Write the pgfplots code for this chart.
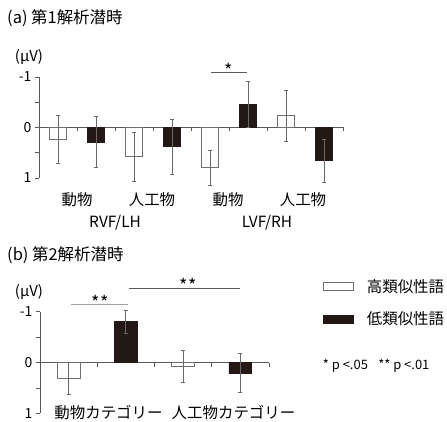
\documentclass[border=0pt]{standalone}
\usepackage{fontspec}
\setmainfont{Noto Sans CJK JP}
\usepackage{pgfplots}
\usepackage{pgfplotstable}
\pgfplotsset{compat=1.18}

\definecolor{barblack}{HTML}{231815}
\definecolor{edgegray}{HTML}{717071}
\definecolor{errgray}{HTML}{6A6868}
\definecolor{axisgray}{HTML}{595757}
\definecolor{siggray}{HTML}{9FA0A0}

% (a) first latency: x = slot centre, y = amplitude (uV), e = error
\pgfplotstableread{
x y e
0.5 0.24 0.47
2.5 0.58 0.49
4.5 0.80 0.34
6.5 -0.23 0.50
}\topwhite
\pgfplotstableread{
x y e
1.5 0.29 0.50
3.5 0.38 0.54
5.5 -0.46 0.46
7.5 0.66 0.42
}\topblack
% (b) second latency
\pgfplotstableread{
x y e
0.5 0.31 0.32
2.5 0.08 0.32
}\botwhite
\pgfplotstableread{
x y e
1.5 -0.80 0.23
3.5 0.21 0.38
}\botblack

\pgfplotsset{
  erpbars/.style={
    scale only axis, clip=false, ybar,
    y dir=reverse, ymin=-1, ymax=1,
    axis x line=middle, axis y line=left,
    axis line style={-, draw=axisgray, line width=0.8bp},
    ytick={-1,-0.5,0,0.5,1}, yticklabels={-1,,0,,1},
    xticklabels={},
    tick style={draw=axisgray, line width=0.8bp},
    major tick length=4bp,
    ytick align=outside, xtick align=inside,
    yticklabel style={font=\fontsize{14}{14}\selectfont, text=black},
  },
  whitebar/.style={fill=white, draw=edgegray, line width=0.8bp, bar shift=0pt,
    error bars/.cd, y dir=both, y explicit,
    error bar style={draw=errgray, line width=0.8bp},
    error mark options={rotate=90, draw=errgray, mark size=2bp, line width=0.8bp}},
  blackbar/.style={fill=barblack, draw=barblack, line width=0.8bp, bar shift=0pt,
    error bars/.cd, y dir=both, y explicit,
    error bar style={draw=errgray, line width=0.8bp},
    error mark options={rotate=90, draw=errgray, mark size=2bp, line width=0.8bp}},
}
\tikzset{sigstar/.style={anchor=base, inner sep=0pt, font=\fontsize{18}{18}\selectfont}}

\begin{document}
\begin{tikzpicture}
\useasboundingbox (0,0) rectangle (447bp,422bp);

% ---- (a) ----
\begin{axis}[erpbars, at={(39bp,244bp)}, anchor=south west,
  width=304bp, height=101bp, xmin=0, xmax=8, xtick={1,...,8}, bar width=0.43]
\addplot[whitebar] table[x=x, y=y, y error=e] {\topwhite};
\addplot[blackbar] table[x=x, y=y, y error=e] {\topblack};
\draw[axisgray, line width=0.8bp] (axis cs:4.53,-1.09) -- (axis cs:5.47,-1.09);
\node[sigstar] at (axis cs:5,-0.99) {*};
\end{axis}

% ---- (b) ----
\begin{axis}[erpbars, at={(40bp,8.7bp)}, anchor=south west,
  width=229bp, height=101.6bp, xmin=0, xmax=4, xtick={1,...,4}, bar width=0.4]
\addplot[whitebar] table[x=x, y=y, y error=e] {\botwhite};
\addplot[blackbar] table[x=x, y=y, y error=e] {\botblack};
\draw[siggray, line width=0.8bp] (axis cs:0.55,-1.15) -- (axis cs:1.53,-1.15);
\node[sigstar] at (axis cs:1.05,-1.04) {**};
\draw[axisgray, line width=0.8bp] (axis cs:1.55,-1.465) -- (axis cs:3.5,-1.465);
\node[sigstar] at (axis cs:2.59,-1.376) {**};
\end{axis}

% titles and labels
\begin{scope}[every node/.style={inner sep=0pt}]
\node[anchor=west, font=\fontsize{16.5}{18}\selectfont] at (7bp,404bp) {(a) 第1解析潜時};
\node[font=\fontsize{15}{16}\selectfont] at (29bp,365bp) {(μV)};
\begin{scope}[font=\fontsize{15.5}{17}\selectfont]
\node at (77bp,222bp) {動物};
\node at (152bp,222bp) {人工物};
\node at (228bp,222bp) {動物};
\node at (303bp,222bp) {人工物};
\node at (115bp,199.5bp) {RVF/LH};
\node at (267bp,199.5bp) {LVF/RH};
\end{scope}

\node[anchor=west, font=\fontsize{16.5}{18}\selectfont] at (7bp,167bp) {(b) 第2解析潜時};
\node[font=\fontsize{15}{16}\selectfont] at (29bp,130.3bp) {(μV)};
\begin{scope}[font=\fontsize{15.5}{17}\selectfont]
\node at (108.5bp,9bp) {動物カテゴリー};
\node at (233.5bp,9bp) {人工物カテゴリー};
\node[anchor=west] at (366.7bp,135.3bp) {高類似性語};
\node[anchor=west] at (366.7bp,103.7bp) {低類似性語};
\end{scope}
\draw[edgegray, line width=0.8bp, fill=white] (323bp,139.7bp) rectangle (353bp,131.3bp);
\draw[barblack, fill=barblack] (323bp,107bp) rectangle (353bp,98.7bp);
\node[anchor=west, font=\fontsize{13}{14}\selectfont] at (322.7bp,56bp) {* p <.05\hspace{0.8em}** p <.01};
\end{scope}
\end{tikzpicture}
\end{document}
